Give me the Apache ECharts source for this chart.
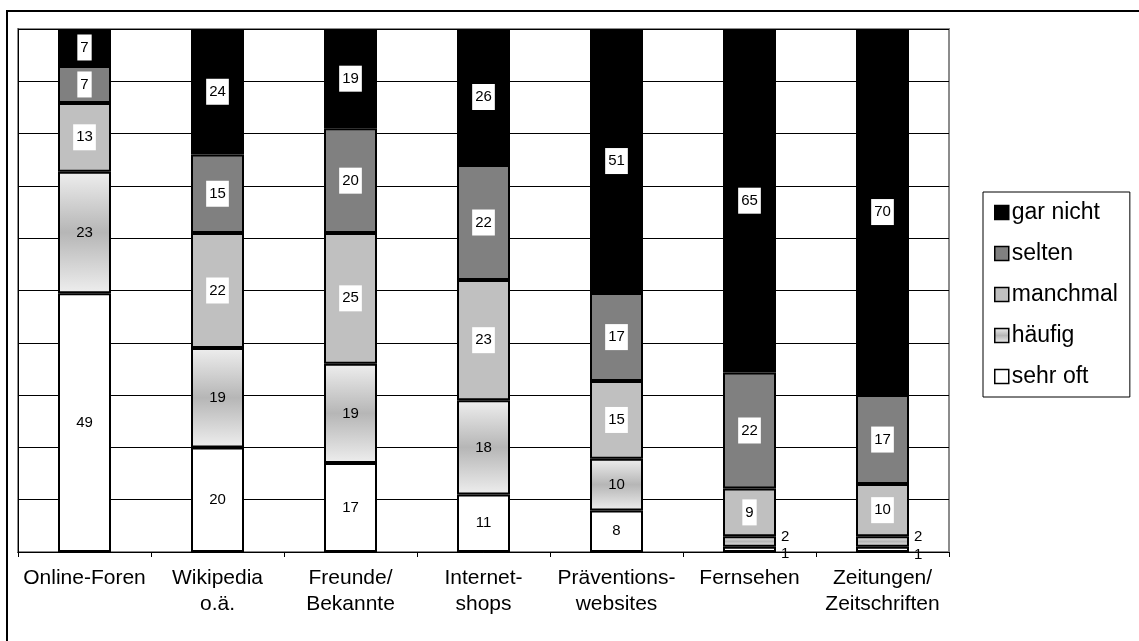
<!DOCTYPE html>
<html>
<head>
<meta charset="utf-8">
<script src="https://cdn.jsdelivr.net/npm/echarts@6/dist/echarts.min.js"></script>
<style>html,body{margin:0;padding:0;background:#fff}#c{width:1139px;height:641px}</style>
</head>
<body>
<div id="c"></div>
<script>
const categories = ['Online-Foren','Wikipedia\no.ä.','Freunde/\nBekannte','Internet-\nshops','Präventions-\nwebsites','Fernsehen','Zeitungen/\nZeitschriften'];
const sehrOft  = [49,20,17,11,8,1,1];
const haeufig  = [23,19,19,18,10,2,2];
const manchmal = [13,22,25,23,15,9,10];
const selten   = [7,15,20,22,17,22,17];
const garNicht = [7,24,19,26,51,65,70];
const seriesNames = ['sehr oft','häufig','manchmal','selten','gar nicht'];

const raw = [sehrOft, haeufig, manchmal, selten, garNicht];
const totals = categories.map((_, i) => raw.reduce((s, a) => s + a[i], 0));

const fills = [
  '#ffffff',
  new echarts.graphic.LinearGradient(0,0,0,1,[{offset:0,color:'#eeeeee'},{offset:0.5,color:'#b6b6b6'},{offset:1,color:'#eeeeee'}]),
  '#c0c0c0',
  '#808080',
  '#000000'
];
const boxed = [false,false,true,true,true];

const series = raw.map((arr, si) => ({
  name: seriesNames[si],
  type: 'bar',
  stack: 'all',
  barWidth: 53,
  itemStyle: { color: fills[si], borderColor: '#000', borderWidth: 2 },
  label: {
    show: true,
    position: 'inside',
    fontFamily: 'Liberation Sans',
    fontSize: 15,
    color: '#000',
    backgroundColor: boxed[si] ? '#fff' : 'transparent',
    padding: [6, 3, 5, 3],
    formatter: p => String(arr[p.dataIndex])
  },
  data: arr.map((v, i) => {
    const d = { value: v / totals[i] * 100 };
    if (v <= 2) {
      d.label = { position: 'right', distance: 5, offset: si === 1 ? [0, -5] : [0, 5], backgroundColor: 'transparent', padding: 0 };
    }
    return d;
  })
}));

const chart = echarts.init(document.getElementById('c'));
chart.setOption({
  animation: false,
  backgroundColor: '#fff',
  textStyle: { fontFamily: 'Liberation Sans' },
  grid: { left: 18, right: 190, top: 29, bottom: 89, show: true, borderColor: '#8c8c8c', borderWidth: 2, backgroundColor: 'transparent' },
  legend: {
    orient: 'vertical',
    left: 983, top: 192,
    data: seriesNames.slice().reverse(),
    icon: 'rect',
    itemWidth: 14, itemHeight: 14,
    itemGap: 18,
    padding: [9, 12, 9, 11],
    borderColor: '#000', borderWidth: 1,
    itemStyle: { borderWidth: 1.5, borderColor: '#000' },
    textStyle: { fontFamily: 'Liberation Sans', fontSize: 23, color: '#000', padding: [0,0,0,-2] }
  },
  xAxis: {
    type: 'category',
    data: categories,
    axisLine: { lineStyle: { color: '#000', width: 1 } },
    axisTick: { show: true, length: 5, lineStyle: { color: '#000' }, alignWithLabel: false },
    axisLabel: { fontFamily: 'Liberation Sans', fontSize: 21, color: '#000', margin: 13, lineHeight: 26, interval: 0 }
  },
  yAxis: {
    type: 'value',
    min: 0, max: 100, interval: 10,
    axisLabel: { show: false },
    axisTick: { show: false },
    axisLine: { show: true, lineStyle: { color: '#000', width: 1 } },
    splitLine: { lineStyle: { color: '#000', width: 1 } }
  },
  graphic: [{
    type: 'rect',
    shape: { x: 7, y: 11, width: 1200, height: 700 },
    style: { fill: 'none', stroke: '#000', lineWidth: 2 },
    silent: true, z: 100
  }],
  series: series
});
</script>
</body>
</html>
